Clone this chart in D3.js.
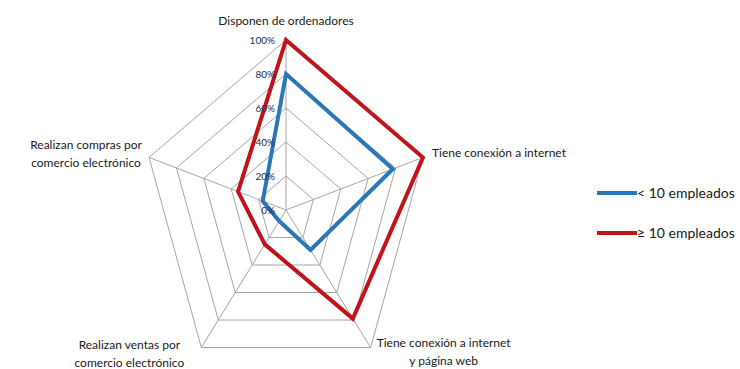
<!DOCTYPE html>
<html>
<head>
<meta charset="utf-8">
<script src="https://cdnjs.cloudflare.com/ajax/libs/d3/7.8.5/d3.min.js"></script>
<style>
  body { margin: 0; background: #fff; }
  text { font-family: Lato, "Open Sans", sans-serif; fill: #1a1a1a; }
</style>
</head>
<body>
<div id="chart"></div>
<script>
// categories (axes), clockwise from the top
var categories = ["Disponen de ordenadores",
                  "Tiene conexión a internet",
                  "Tiene conexión a internet\ny página web",
                  "Realizan ventas por\ncomercio electrónico",
                  "Realizan compras por\ncomercio electrónico"];
var seriesNames = ["< 10 empleados", "\u2265 10 empleados"];
var menos10 = [80, 78, 29, 8, 17];
var mas10 = [100, 100, 79, 25, 35];
var tickValues = [0, 20, 40, 60, 80, 100];

var width = 740, height = 369;
var cx = 286, cy = 210;

// the plot is a bit narrower than it is tall
var rx = d3.scaleLinear().domain([0, 100]).range([0, 144]);
var ry = d3.scaleLinear().domain([0, 100]).range([0, 170]);
var color = d3.scaleOrdinal().domain(seriesNames).range(["#2a78b8", "#c0141b"]);

var angle = d3.scaleLinear().domain([0, categories.length]).range([0, 2 * Math.PI]);

function pt(i, v) {
  var a = angle(i);
  return [cx + rx(v) * Math.sin(a), cy - ry(v) * Math.cos(a)];
}

var svg = d3.select("#chart").append("svg")
    .attr("width", width)
    .attr("height", height);

var line = d3.line().curve(d3.curveLinearClosed);

// grid pentagons
svg.append("g").selectAll("path")
  .data(tickValues.slice(1))
  .enter().append("path")
    .attr("d", function(t) { return line(categories.map(function(c, i) { return pt(i, t); })); })
    .style("fill", "none")
    .style("stroke", "#a6a6a6")
    .style("stroke-width", 1);

// spokes
svg.append("g").selectAll("line")
  .data(categories)
  .enter().append("line")
    .attr("x1", cx).attr("y1", cy)
    .attr("x2", function(c, i) { return pt(i, 100)[0]; })
    .attr("y2", function(c, i) { return pt(i, 100)[1]; })
    .style("stroke", "#a6a6a6")
    .style("stroke-width", 1);

// series
var series = [menos10, mas10];
svg.append("g").selectAll("path")
  .data(series)
  .enter().append("path")
    .attr("d", function(s) { return line(s.map(function(v, i) { return pt(i, v); })); })
    .style("fill", "none")
    .style("stroke", function(s, k) { return color(seriesNames[k]); })
    .style("stroke-width", 4)
    .style("stroke-linejoin", "miter");

// tick labels along the top axis
svg.append("g").selectAll("text")
  .data(tickValues)
  .enter().append("text")
    .attr("x", cx - 11)
    .attr("y", function(t) { return pt(0, t)[1]; })
    .attr("dy", "0.35em")
    .attr("text-anchor", "end")
    .style("font-size", "10px")
    .style("fill", "#2b2b40")
    .text(function(t) { return t + "%"; });

// category labels: offsets from the outer vertex
var labelPos = [
  { dx: 0, dy: -19, anchor: "middle" },
  { dx: 9, dy: -5, anchor: "start" },
  { dx: 73, dy: -5, anchor: "middle" },
  { dx: -72, dy: -3, anchor: "middle" },
  { dx: -63, dy: -13, anchor: "middle" }
];

var labels = svg.append("g").selectAll("text")
  .data(categories)
  .enter().append("text")
    .attr("text-anchor", function(c, i) { return labelPos[i].anchor; })
    .attr("transform", function(c, i) {
      var p = pt(i, 100);
      return "translate(" + (p[0] + labelPos[i].dx) + "," + (p[1] + labelPos[i].dy) + ")";
    })
    .style("font-size", "12px");

labels.selectAll("tspan")
  .data(function(c) { return c.split("\n"); })
  .enter().append("tspan")
    .attr("x", 0)
    .attr("y", function(d, j) { return j * 18; })
    .attr("dy", "0.35em")
    .text(function(d) { return d; });

// legend
var legend = svg.append("g").selectAll("g")
  .data(seriesNames)
  .enter().append("g")
    .attr("transform", function(d, i) { return "translate(597," + (193 + i * 40) + ")"; });

legend.append("line")
    .attr("x1", 0).attr("x2", 40)
    .style("stroke", color)
    .style("stroke-width", 4);

legend.append("text")
    .attr("x", 40)
    .attr("dy", "0.35em")
    .style("font-size", "14px")
    .text(function(d) { return d; });
</script>
</body>
</html>
